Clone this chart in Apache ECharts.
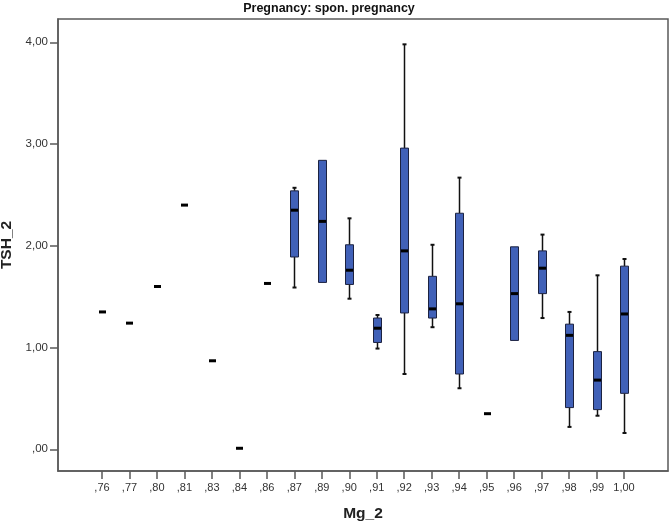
<!DOCTYPE html>
<html>
<head>
<meta charset="utf-8">
<script src="https://cdn.jsdelivr.net/npm/echarts@6/dist/echarts.min.js"></script>
<style>html,body{margin:0;padding:0;background:#fff;}#c{width:671px;height:523px;}</style>
</head>
<body>
<div id="c"></div>
<script>
const categories = [',76',',77',',80',',81',',83',',84',',86',',87',',89',',90',',91',',92',',93',',94',',95',',96',',97',',98',',99','1,00'];
const whiskerLow  = [1.35,1.24,1.60,2.40,0.87,0.01,1.63,1.59,1.64,1.48,0.99,0.74,1.20,0.60,0.35,1.07,1.29,0.22,0.33,0.16];
const q1          = [1.35,1.24,1.60,2.40,0.87,0.01,1.63,1.89,1.64,1.62,1.05,1.34,1.29,0.74,0.35,1.07,1.53,0.41,0.39,0.55];
const medians     = [1.35,1.24,1.60,2.40,0.87,0.01,1.63,2.35,2.24,1.76,1.19,1.95,1.38,1.43,0.35,1.53,1.78,1.12,0.68,1.33];
const q3          = [1.35,1.24,1.60,2.40,0.87,0.01,1.63,2.54,2.84,2.01,1.29,2.96,1.70,2.32,0.35,1.99,1.95,1.23,0.96,1.80];
const whiskerHigh = [1.35,1.24,1.60,2.40,0.87,0.01,1.63,2.57,2.84,2.27,1.32,3.98,2.01,2.67,0.35,1.99,2.11,1.35,1.71,1.87];
const yTicks = [0,1,2,3,4];
const yTickLabels = [',00','1,00','2,00','3,00','4,00'];

const data = categories.map((c,i)=>[i, whiskerLow[i], q1[i], medians[i], q3[i], whiskerHigh[i]]);
const xTicks = categories.map((c,i)=>i);

const chart = echarts.init(document.getElementById('c'), null, {renderer:'canvas'});
const axisColor = '#5a5a5a';
const labelColor = '#333';
const FONT = 'Liberation Sans, Arial, sans-serif';

function renderItem(params, api){
  const x = api.value(0);
  const lo = api.coord([x, api.value(1)]);
  const b1 = api.coord([x, api.value(2)]);
  const md = api.coord([x, api.value(3)]);
  const b3 = api.coord([x, api.value(4)]);
  const hi = api.coord([x, api.value(5)]);
  const cx = Math.round(lo[0]) + 0.5;
  const bw = 8, cap = 4;
  const children = [];
  const wStyle = {stroke:'#111', lineWidth:1.5};
  if (Math.abs(hi[1]-b3[1]) > 0.5) {
    children.push({type:'line', shape:{x1:cx,y1:b3[1],x2:cx,y2:hi[1]}, style:wStyle});
    children.push({type:'line', shape:{x1:cx-cap/2,y1:hi[1],x2:cx+cap/2,y2:hi[1]}, style:{stroke:'#111',lineWidth:2}});
  }
  if (Math.abs(lo[1]-b1[1]) > 0.5) {
    children.push({type:'line', shape:{x1:cx,y1:b1[1],x2:cx,y2:lo[1]}, style:wStyle});
    children.push({type:'line', shape:{x1:cx-cap/2,y1:lo[1],x2:cx+cap/2,y2:lo[1]}, style:{stroke:'#111',lineWidth:2}});
  }
  if (Math.abs(b1[1]-b3[1]) > 0.5) {
    children.push({type:'rect', shape:{x:cx-bw/2, y:b3[1], width:bw, height:b1[1]-b3[1]},
      style:{fill:'#4161b8', stroke:'#1c2240', lineWidth:1}});
  }
  children.push({type:'line', shape:{x1:cx-bw/2+0.5,y1:md[1],x2:cx+bw/2-0.5,y2:md[1]}, style:{stroke:'#000',lineWidth:3}});
  return {type:'group', children};
}

chart.setOption({
  animation:false,
  backgroundColor:'#fff',
  title:{
    text:'Pregnancy: spon. pregnancy',
    left:329, textAlign:'center', top:2, padding:0,
    textStyle:{fontFamily:FONT, fontSize:12.5, fontWeight:'bold', color:'#111'}
  },
  grid:{left:58, right:3, top:19, bottom:52, show:true, borderColor:axisColor, borderWidth:1.5, backgroundColor:'#fff',
    containLabel:false, outerBoundsMode:'none'},
  xAxis:{
    type:'value', min:-1.6015, max:20.6015,
    name:'Mg_2', nameLocation:'middle', nameGap:35,
    nameTextStyle:{fontFamily:FONT, fontSize:15.5, fontWeight:'bold', color:'#222'},
    axisLine:{show:true, onZero:false, lineStyle:{color:axisColor, width:1.5}},
    axisTick:{show:true, length:8, lineStyle:{color:axisColor, width:1.5}, customValues:xTicks},
    axisLabel:{show:true, customValues:xTicks, fontFamily:FONT, fontSize:11, color:labelColor, margin:11,
      formatter:v=>categories[Math.round(v)]},
    splitLine:{show:false}
  },
  yAxis:{
    type:'value', min:-0.2133, max:4.229,
    name:'TSH_2', nameLocation:'middle', nameGap:38, nameRotate:90,
    nameTextStyle:{fontFamily:FONT, fontSize:15.5, fontWeight:'bold', color:'#222'},
    axisLine:{show:true, onZero:false, lineStyle:{color:axisColor, width:1.5}},
    axisTick:{show:true, length:8, lineStyle:{color:axisColor, width:1.5}, customValues:yTicks},
    axisLabel:{show:true, customValues:yTicks, fontFamily:FONT, fontSize:11.5, color:labelColor, margin:10,
      formatter:v=>yTickLabels[yTicks.indexOf(Math.round(v))]},
    splitLine:{show:false}
  },
  series:[{
    type:'custom',
    renderItem,
    encode:{x:0, y:[1,2,3,4,5]},
    data
  }]
});
</script>
</body>
</html>
